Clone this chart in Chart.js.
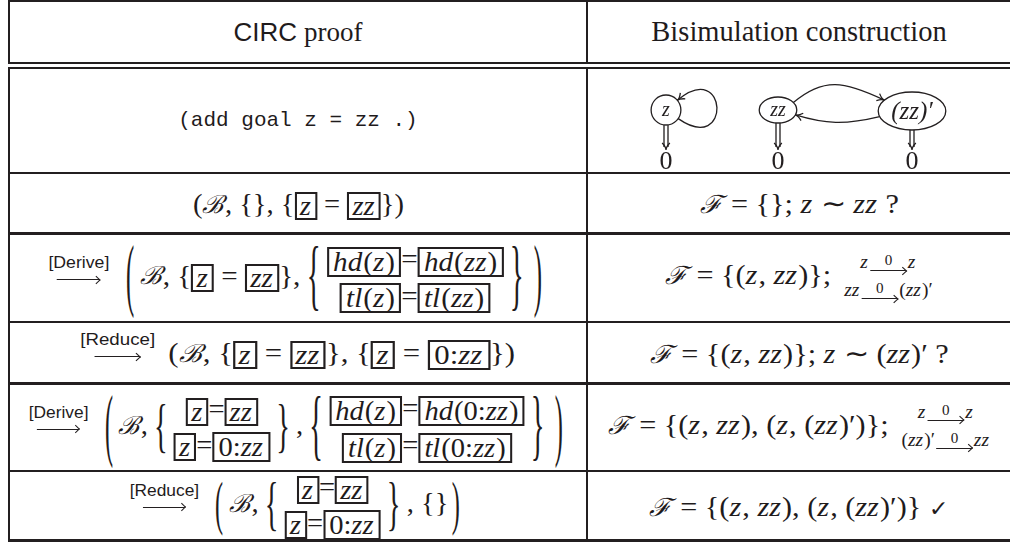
<!DOCTYPE html>
<html>
<head>
<meta charset="utf-8">
<script src="https://cdn.jsdelivr.net/npm/chart.js@4.4.0/dist/chart.umd.min.js"></script>
<style>
html, body { margin: 0; padding: 0; background: #fff; }
body { width: 1010px; height: 542px; overflow: hidden; position: relative; color: #1f1b1c; font-family: "Liberation Serif", serif; }
.ln { position: absolute; background: #231f20; }
.cell { position: absolute; display: flex; align-items: center; justify-content: center; white-space: nowrap; font-size: 28px; }
.mx { display: inline-block; transform: scaleX(1.08); }
i { font-style: italic; padding-right: 1px; }
.sf { font-family: "Liberation Sans", sans-serif; }
.tt { font-family: "Liberation Mono", monospace; font-size: 21px; }
.cal { font-family: "DejaVu Serif", serif; font-style: italic; font-size: 25px; padding-right: 1px; }
.bx { display: inline-block; border: 2px solid #231f20; padding: 0 4px; line-height: 26px; vertical-align: middle; }
.bx.s { padding: 0 3px; line-height: 24px; }
.step { display: inline-flex; flex-direction: column; align-items: center; vertical-align: middle; margin: 0 12px 0 0; position: relative; top: -9px; }
.step .lab { font-family: "Liberation Sans", sans-serif; font-size: 17px; line-height: 1; margin-bottom: 5px; }
.arw { display: block; position: relative; height: 8px; }
.arw::before { content: ''; position: absolute; left: 0; right: 1px; top: 3px; border-top: 1.4px solid #231f20; }
.arw::after { content: ''; position: absolute; right: 1px; top: 0.5px; width: 5px; height: 5px; border-top: 1.4px solid #231f20; border-right: 1.4px solid #231f20; transform: rotate(45deg); }
.step .arw { width: 42px; }
.stack { display: inline-flex; flex-direction: column; align-items: center; vertical-align: middle; gap: 3px; }
.big { display: inline-block; transform: translateY(-3px) scale(0.85, 2.85); vertical-align: middle; margin: 0 5px 0 3px; }
.big2 { display: inline-block; transform: translateY(-2px) scale(0.85, 2.1); vertical-align: middle; margin: 0 5px 0 3px; }
.brc { display: inline-block; transform: translateY(-2px) scale(1, 2.8); vertical-align: middle; margin: 0 6px; }
.brc2 { display: inline-block; transform: translateY(-2px) scale(1, 2.1); vertical-align: middle; margin: 0 6px; }
.tr { display: inline-flex; flex-direction: column; align-items: center; vertical-align: middle; font-size: 18px; line-height: 1; margin-left: 12px; gap: 6px; }
.ov { display: inline-flex; flex-direction: column; align-items: center; vertical-align: 3px; margin: 0 1px; }
.ov .o { font-size: 14px; line-height: 12px; }
.ov .arw { width: 34px; }
#diag { position: absolute; left: 588px; top: 69px; }
</style>
</head>
<body>

<!-- table rules -->
<div class="ln" style="left:8px;top:0;width:1010px;height:2px"></div>
<div class="ln" style="left:8px;top:62px;width:1010px;height:2px"></div>
<div class="ln" style="left:8px;top:67px;width:1010px;height:2px"></div>
<div class="ln" style="left:8px;top:172px;width:1010px;height:2px"></div>
<div class="ln" style="left:8px;top:232px;width:1010px;height:3px"></div>
<div class="ln" style="left:8px;top:321px;width:1010px;height:2px"></div>
<div class="ln" style="left:8px;top:382px;width:1010px;height:3px"></div>
<div class="ln" style="left:8px;top:470px;width:1010px;height:2px"></div>
<div class="ln" style="left:8px;top:539px;width:1010px;height:3px"></div>
<div class="ln" style="left:8px;top:0;width:2px;height:64px"></div>
<div class="ln" style="left:8px;top:67px;width:2px;height:475px"></div>
<div class="ln" style="left:586px;top:0;width:2px;height:64px"></div>
<div class="ln" style="left:586px;top:67px;width:2px;height:475px"></div>

<!-- header -->
<div class="cell" style="left:10px;top:2px;width:576px;height:60px;font-size:27px"><span><span class="sf" style="font-size:26px">CIRC</span> proof</span></div>
<div class="cell" style="left:588px;top:2px;width:422px;height:60px;font-size:28.5px">Bisimulation construction</div>

<!-- row 1 -->
<div class="cell" style="left:10px;top:69px;width:576px;height:103px"><span class="tt">(add goal z = zz .)</span></div>
<canvas id="diag" width="422" height="103"></canvas>

<!-- row 2 -->
<div class="cell" style="left:10px;top:174px;width:576px;height:58px"><span class="mx" style="transform:scaleX(1.02)">(<span class="cal">ℬ</span>, {}, {<span class="bx s"><i>z</i></span> = <span class="bx s"><i>zz</i></span>})</span></div>
<div class="cell" style="left:588px;top:174px;width:422px;height:58px"><span class="mx"><span class="cal">ℱ</span> = {}; <i>z</i> ∼ <i>zz</i> ?</span></div>

<!-- row 3 -->
<div class="cell" style="left:10px;top:235px;width:576px;height:86px"><span class="mx" style="transform:scaleX(1.04)"><span class="step"><span class="lab">[Derive]</span><span class="arw"></span></span><span class="big">(</span><span class="cal">ℬ</span>, {<span class="bx s"><i>z</i></span> = <span class="bx s"><i>zz</i></span>},<span class="brc">{</span><span class="stack"><span><span class="bx"><i>hd</i>(<i>z</i>)</span>=<span class="bx"><i>hd</i>(<i>zz</i>)</span></span><span><span class="bx"><i>tl</i>(<i>z</i>)</span>=<span class="bx"><i>tl</i>(<i>zz</i>)</span></span></span><span class="brc">}</span><span class="big">)</span></span></div>
<div class="cell" style="left:588px;top:235px;width:422px;height:86px"><span class="mx"><span class="cal">ℱ</span> = {(<i>z</i>, <i>zz</i>)};<span class="tr"><span><i>z</i><span class="ov"><span class="o">0</span><span class="arw"></span></span><i>z</i></span><span><i>zz</i><span class="ov"><span class="o">0</span><span class="arw"></span></span>(<i>zz</i>)′</span></span></span></div>

<!-- row 4 -->
<div class="cell" style="left:10px;top:323px;width:576px;height:59px"><span class="mx" style="transform:scaleX(1.1)"><span class="step"><span class="lab">[Reduce]</span><span class="arw"></span></span>(<span class="cal">ℬ</span>, {<span class="bx s"><i>z</i></span> = <span class="bx s"><i>zz</i></span>}, {<span class="bx s"><i>z</i></span> = <span class="bx">0:<i>zz</i></span>})</span></div>
<div class="cell" style="left:588px;top:323px;width:422px;height:59px"><span class="mx"><span class="cal">ℱ</span> = {(<i>z</i>, <i>zz</i>)}; <i>z</i> ∼ (<i>zz</i>)′ ?</span></div>

<!-- row 5 -->
<div class="cell" style="left:10px;top:385px;width:576px;height:85px"><span class="mx" style="transform:scaleX(1.02)"><span class="step"><span class="lab">[Derive]</span><span class="arw"></span></span><span class="big">(</span><span class="cal">ℬ</span>,<span class="brc2">{</span><span class="stack"><span><span class="bx s"><i>z</i></span>=<span class="bx s"><i>zz</i></span></span><span><span class="bx s"><i>z</i></span>=<span class="bx">0:<i>zz</i></span></span></span><span class="brc2">}</span>,<span class="brc">{</span><span class="stack"><span><span class="bx"><i>hd</i>(<i>z</i>)</span>=<span class="bx"><i>hd</i>(0:<i>zz</i>)</span></span><span><span class="bx"><i>tl</i>(<i>z</i>)</span>=<span class="bx"><i>tl</i>(0:<i>zz</i>)</span></span></span><span class="brc">}</span><span class="big">)</span></span></div>
<div class="cell" style="left:588px;top:385px;width:422px;height:85px"><span class="mx"><span class="cal">ℱ</span> = {(<i>z</i>, <i>zz</i>), (<i>z</i>, (<i>zz</i>)′)};<span class="tr"><span><i>z</i><span class="ov"><span class="o">0</span><span class="arw"></span></span><i>z</i></span><span>(<i>zz</i>)′<span class="ov"><span class="o">0</span><span class="arw"></span></span><i>zz</i></span></span></span></div>

<!-- row 6 -->
<div class="cell" style="left:10px;top:472px;width:576px;height:67px"><span class="mx" style="transform:scaleX(1.02)"><span class="step"><span class="lab">[Reduce]</span><span class="arw"></span></span><span class="big2">(</span><span class="cal">ℬ</span>,<span class="brc2">{</span><span class="stack"><span><span class="bx s"><i>z</i></span>=<span class="bx s"><i>zz</i></span></span><span><span class="bx s"><i>z</i></span>=<span class="bx">0:<i>zz</i></span></span></span><span class="brc2">}</span>, {}<span class="big2">)</span></span></div>
<div class="cell" style="left:588px;top:472px;width:422px;height:67px"><span class="mx"><span class="cal">ℱ</span> = {(<i>z</i>, <i>zz</i>), (<i>z</i>, (<i>zz</i>)′)} <span style="font-family:'DejaVu Sans';font-size:22px">✓</span></span></div>

<script>
// automaton for the goal z = zz
const nodeLabels = ['z', 'zz', "(zz)′"];
const nodeX = [78, 190, 324];
const nodeY = [41, 41, 42];
const outputs = ['0', '0', '0'];
// [from, to] pairs, a pair with from == to is a self loop
const edges = [[0, 0], [1, 2], [2, 1]];

const ink = '#231f20';

function arrowHead(c, x, y, ang) {
  c.beginPath();
  c.moveTo(x - 8 * Math.cos(ang - 0.5), y - 8 * Math.sin(ang - 0.5));
  c.quadraticCurveTo(x - 3 * Math.cos(ang), y - 3 * Math.sin(ang), x, y);
  c.quadraticCurveTo(x - 3 * Math.cos(ang), y - 3 * Math.sin(ang), x - 8 * Math.cos(ang + 0.5), y - 8 * Math.sin(ang + 0.5));
  c.stroke();
}

const automaton = {
  id: 'automaton',
  afterDatasetsDraw(chart) {
    const c = chart.ctx;
    const xs = chart.scales.x, ys = chart.scales.y;
    c.save();
    c.strokeStyle = ink;
    c.fillStyle = ink;
    c.lineWidth = 1.3;
    c.textAlign = 'center';
    c.textBaseline = 'middle';

    // nodes
    const nodes = nodeLabels.map((lab, i) => {
      const big = lab.length > 2;
      c.font = 'italic ' + (big ? 25 : 20) + 'px "Liberation Serif"';
      const w = c.measureText(lab).width;
      const n = {
        x: xs.getPixelForValue(nodeX[i]),
        y: ys.getPixelForValue(nodeY[i]),
        rx: Math.max(14, w / 2 + (big ? 13 : 11)),
        ry: big ? 19 : (lab.length > 1 ? 13 : 15)
      };
      c.beginPath();
      c.ellipse(n.x, n.y, n.rx, n.ry, 0, 0, Math.PI * 2);
      c.stroke();
      c.fillText(lab, n.x, n.y + 1);
      return n;
    });

    const at = (n, deg) => [n.x + n.rx * Math.cos(deg * Math.PI / 180), n.y + n.ry * Math.sin(deg * Math.PI / 180)];

    // transitions
    edges.forEach(([f, t]) => {
      const a = nodes[f], b = nodes[t];
      let p0, p3, c1, c2;
      if (f === t) {
        p0 = at(a, 35); p3 = at(a, -40);
        c1 = [a.x + 66, a.y + 46]; c2 = [a.x + 62, a.y - 52];
      } else if (a.x < b.x) {
        p0 = at(a, -35); p3 = at(b, 215);
        c1 = [p0[0] + 30, a.y - 33]; c2 = [p3[0] - 40, b.y - 30];
      } else {
        p0 = at(a, 163); p3 = at(b, 22);
        c1 = [p0[0] - 35, a.y + 14]; c2 = [p3[0] + 30, b.y + 14];
      }
      c.beginPath();
      c.moveTo(p0[0], p0[1]);
      c.bezierCurveTo(c1[0], c1[1], c2[0], c2[1], p3[0], p3[1]);
      c.stroke();
      arrowHead(c, p3[0], p3[1], Math.atan2(p3[1] - c2[1], p3[0] - c2[0]));
    });

    // outputs: double arrow down to the value
    c.font = '26px "Liberation Serif"';
    nodes.forEach((n, i) => {
      const top = n.y + n.ry, bot = ys.getPixelForValue(81);
      c.beginPath();
      c.moveTo(n.x - 2, top); c.lineTo(n.x - 2, bot - 3);
      c.moveTo(n.x + 2, top); c.lineTo(n.x + 2, bot - 3);
      c.stroke();
      arrowHead(c, n.x, bot, Math.PI / 2);
      c.fillText(outputs[i], n.x, ys.getPixelForValue(93));
    });
    c.restore();
  }
};

const ctx = document.getElementById('diag').getContext('2d');
const diagChart = new Chart(ctx, {
  type: 'scatter',
  data: {
    labels: nodeLabels,
    datasets: [{
      data: nodeX.map((x, i) => ({ x: x, y: nodeY[i] })),
      pointRadius: 0
    }]
  },
  options: {
    responsive: false,
    animation: false,
    events: [],
    layout: { padding: 0 },
    plugins: { legend: { display: false }, tooltip: { enabled: false } },
    scales: {
      x: { type: 'linear', min: 0, max: 422, display: false },
      y: { type: 'linear', min: 0, max: 103, reverse: true, display: false }
    }
  },
  plugins: [automaton]
});
</script>
</body>
</html>
